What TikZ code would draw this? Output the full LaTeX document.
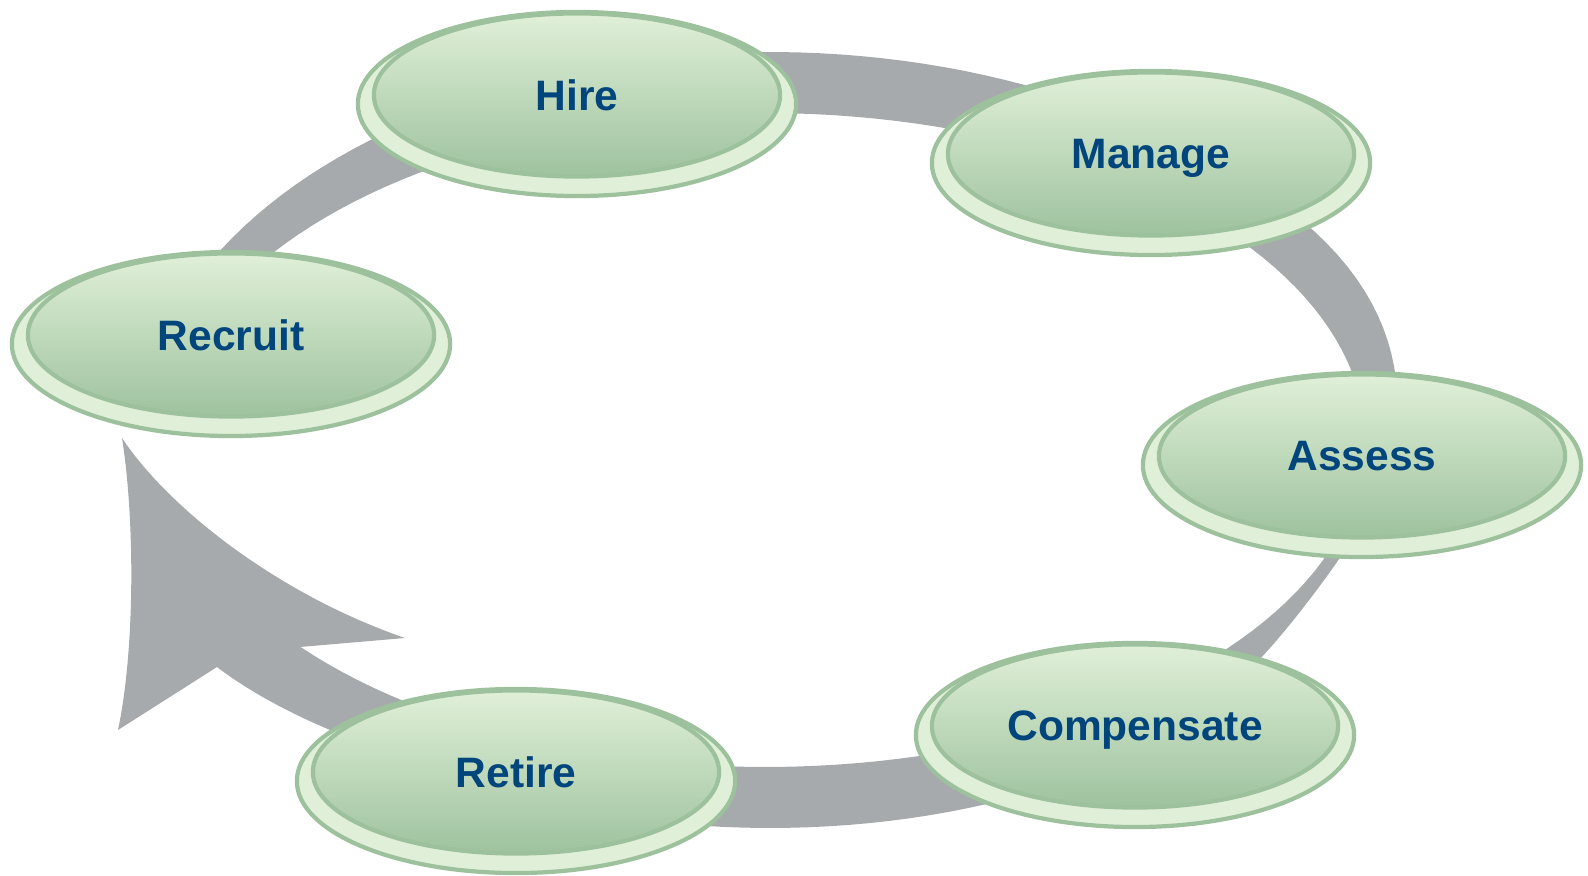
\documentclass[tikz,border=0pt]{standalone}
\usepackage{fontspec}
\setmainfont{Liberation Sans}
\usepackage{tikz}
\usetikzlibrary{shapes.geometric}
\definecolor{ringgray}{RGB}{166,170,172}
\definecolor{leafline}{RGB}{157,193,157}
\definecolor{leaflight}{RGB}{224,240,216}
\definecolor{leafdark}{RGB}{158,194,158}
\definecolor{labelblue}{RGB}{0,69,124}

\begin{document}
\begin{tikzpicture}[x=0.01cm,y=-0.01cm,
	stage/.style={ellipse,draw=leafline,line width=1.2pt,fill=leaflight,minimum width=4.38cm,minimum height=1.84cm,inner sep=0pt},
	stagetop/.style={ellipse,draw=leafline,line width=1.2pt,top color=leaflight,bottom color=leafdark,minimum width=4.06cm,minimum height=1.63cm,inner sep=0pt,text depth=0pt,text=labelblue,font=\fontsize{12.1}{14}\selectfont\bfseries}]
	
	\useasboundingbox (0,0) rectangle (1588,876);
	
	% the ring with its arrow head (thicker on the right, thinner on the lower right)
	\fill[ringgray] plot[domain=200:485,samples=150] ({770+630*(1+0.02*exp(-((\x-335)/20)^2)-0.05*exp(-((\x-385)/22)^2))*cos(\x)},{440+388*(1+0.02*exp(-((\x-335)/20)^2)-0.05*exp(-((\x-385)/22)^2))*sin(\x)})
		.. controls (330,735) and (260,700) .. (217,667)
		-- (118,730) .. controls (135,650) and (135,520) .. (122,438)
		.. controls (170,510) and (280,595) .. (405,638) -- (300,647)
		-- plot[domain=500.8:205,samples=150] ({765+600*cos(\x)},{440+327*sin(\x)}) -- cycle;
	
	\node[stage] (recruit) at (231,344) {};
	\node[stagetop] (recruit-top) at ([yshift=0.09cm]recruit.center) {Recruit};
	\node[stage] (hire) at (577,104) {};
	\node[stagetop] (hire-top) at ([yshift=0.09cm]hire.center) {Hire};
	\node[stage] (manage) at (1151,163) {};
	\node[stagetop] (manage-top) at ([yshift=0.09cm]manage.center) {Manage};
	\node[stage] (assess) at (1362,465) {};
	\node[stagetop] (assess-top) at ([yshift=0.09cm]assess.center) {Assess};
	\node[stage] (compensate) at (1135,735) {};
	\node[stagetop] (compensate-top) at ([yshift=0.09cm]compensate.center) {Compensate};
	\node[stage] (retire) at (516,781) {};
	\node[stagetop] (retire-top) at ([yshift=0.09cm]retire.center) {Retire};
\end{tikzpicture}
\end{document}
